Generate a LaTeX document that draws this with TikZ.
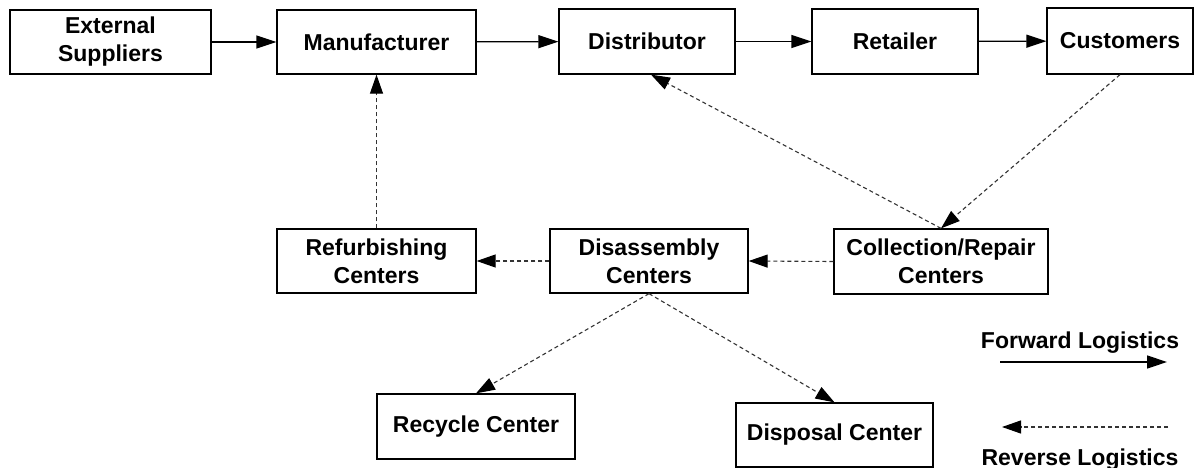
\documentclass[tikz,border=0pt]{standalone}
\usepackage{fontspec}
\setmainfont{Liberation Sans}
\usetikzlibrary{arrows.meta,calc}
\begin{document}
\begin{tikzpicture}[x=1pt,y=-1pt,
 box/.style={draw, line width=1.3pt, align=center, inner sep=0pt, font=\bfseries\fontsize{23}{28}\selectfont},
 fwd/.style={line width=1.3pt, -{Triangle[length=20pt,width=13pt]}},
 rev/.style={line width=1.1pt, draw=black!80, dash pattern=on 4pt off 3pt, -{Triangle[length=19pt,width=13pt,fill=black,color=black]}},
 lbl/.style={font=\bfseries\fontsize{23}{28}\selectfont, anchor=base, inner sep=0pt}]
\useasboundingbox (0,0) rectangle (1194,468);
\node[box, minimum width=201pt, minimum height=64pt] (es) at (110.5,42) {External\\Suppliers};
\node[box, minimum width=199pt, minimum height=64pt] (man) at (376.5,42) {Manufacturer};
\node[box, minimum width=176pt, minimum height=65pt] (dist) at (647,41.5) {Distributor};
\node[box, minimum width=166pt, minimum height=65pt] (ret) at (895,41.5) {Retailer};
\node[box, minimum width=146pt, minimum height=66pt] (cust) at (1120,41) {Customers};
\node[box, minimum width=199pt, minimum height=64pt] (ref) at (376.5,261) {Refurbishing\\Centers};
\node[box, minimum width=198pt, minimum height=64pt] (dis) at (649,261) {Disassembly\\Centers};
\node[box, minimum width=214pt, minimum height=65pt] (col) at (941,261.5) {Collection/Repair\\Centers};
\node[box, minimum width=198pt, minimum height=65pt] (rec) at (476,426.5) {Recycle Center};
\node[box, minimum width=197pt, minimum height=64pt] (disp) at (834.5,435) {Disposal Center};

\draw[fwd] (es) -- (man);
\draw[fwd] (man) -- (dist);
\draw[fwd] (dist) -- (ret);
\draw[fwd] (ret) -- (cust);

\draw[rev] (ref.north) -- (man.south);
\draw[rev] (dis.west) -- (ref.east);
\draw[rev] (col.west) -- (dis.east);
\draw[rev] (cust.south) -- (col.north);
\coordinate (dtarget) at ($(dist.south)+(4,0)$);
\draw[rev] (col.north) -- (dtarget);
\draw[rev] (dis.south) -- (rec.north);
\draw[rev] (dis.south) -- (disp.north);

\node[lbl] (fl) at (1080,348) {Forward Logistics};
\coordinate (f1) at (1000,362);
\coordinate (f2) at (1167,362);
\draw[fwd] (f1) -- (f2);
\coordinate (r1) at (1168,427);
\coordinate (r2) at (1002,427);
\draw[rev] (r1) -- (r2);
\node[lbl] (rl) at (1080,465) {Reverse Logistics};
\end{tikzpicture}
\end{document}
